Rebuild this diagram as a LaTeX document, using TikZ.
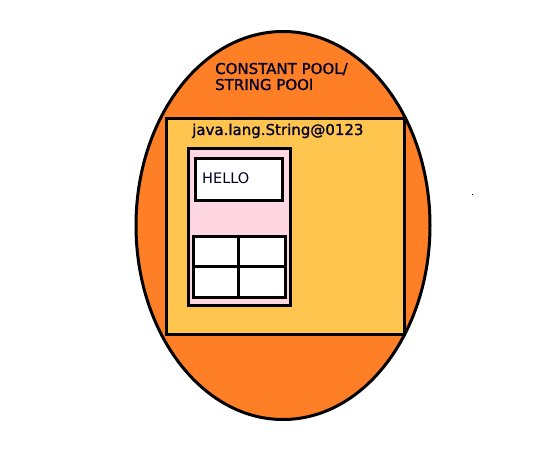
\documentclass[tikz,border=0pt]{standalone}
\usepackage{fontspec}
\setmainfont{DejaVu Sans}
\newfontfamily\titlefont[FakeBold=1.2]{DejaVu Sans}
\usepackage{tikz}
\usetikzlibrary{positioning}

\definecolor{poolorange}{HTML}{FF7F27}
\definecolor{objgold}{HTML}{FFC54E}
\definecolor{strpink}{HTML}{FFD7E2}

\tikzset{
  label text/.style={inner sep=0pt, anchor=base west, text=black!85!blue,
    font=\titlefont\fontsize{15}{17}\selectfont},
  thickline/.style={line width=3pt}
}

\begin{document}
\begin{tikzpicture}[x=1pt,y=-1pt]
  \useasboundingbox (0,0) rectangle (536,462);

  % pool
  \draw[thickline, fill=poolorange] (283,225.5) ellipse [x radius=147, y radius=194];
  \node[label text] (pooltitle) at (215,74) {CONSTANT POOL/};
  \node[label text] (pooltitle2) at (215,90) {STRING POOl};

  % string object
  \draw[thickline, fill=objgold] (166,119) rectangle (404,335);
  \node[label text] (objname) at (192,135) {java.lang.String@0123};

  \draw[thickline, fill=strpink] (188,149) rectangle (290,306);
  \draw[thickline, fill=white] (195,159) rectangle (282,201);
  \node[label text, font=\normalfont\fontsize{14.5}{17}\selectfont] (hello) at (202,184) {HELLO};

  % array cells
  \draw[thickline, fill=white] (193,237) rectangle (285,298);
  \draw[thickline] (238,237) -- (238,298);
  \draw[thickline] (193,267) -- (286,267);

  \fill (471.5,194.5) rectangle (472.5,195.5);
\end{tikzpicture}
\end{document}
